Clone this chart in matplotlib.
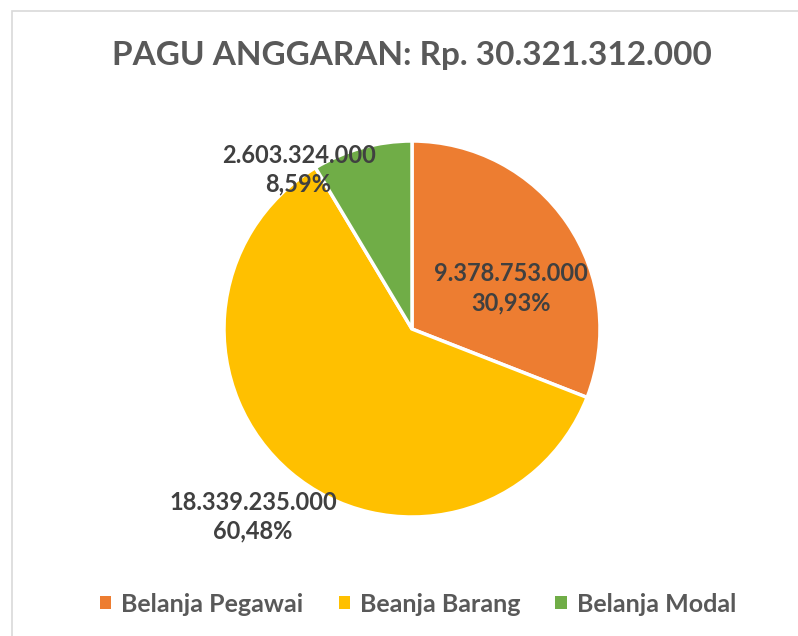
import matplotlib
matplotlib.use("Agg")
import matplotlib.pyplot as plt
from matplotlib.patches import Rectangle
import numpy as np

plt.rcParams["font.family"] = ["Lato", "DejaVu Sans"]

TITLE = "PAGU ANGGARAN: Rp. 30.321.312.000"
categories = ["Belanja Pegawai", "Beanja Barang", "Belanja Modal"]
values = [9378753000, 18339235000, 2603324000]
pct_labels = ["30,93%", "60,48%", "8,59%"]
colors = ["#ED7D31", "#FFC000", "#70AD47"]

W, H = 798, 636
fig = plt.figure(figsize=(W / 100, H / 100), dpi=100)

# chart frame (light gray, runs off the right/bottom edge)
fig.patches.append(Rectangle((12 / W, -0.1), 1.2, 1 - 11 / H + 0.1,
                             transform=fig.transFigure, fill=False,
                             edgecolor="#D9D9D9", linewidth=1.2))

fig.text(412 / W, 1 - 55 / H, TITLE, ha="center", va="center",
         fontsize=24, fontweight="bold", color="#595959")

cx, cy, r = 412, 329, 188
ax = fig.add_axes([(cx - r) / W, (H - cy - r) / H, 2 * r / W, 2 * r / H])
wedges, _ = ax.pie(values, colors=colors, startangle=90, counterclock=False,
                   radius=1, wedgeprops=dict(edgecolor="white", linewidth=2.5))
ax.set_xlim(-1, 1)
ax.set_ylim(-1, 1)
ax.set_aspect("equal")
ax.axis("off")

# label placement: (angle shift in degrees, distance from centre)
label_place = [(-12, 0.57), (0, 1.31), (20, 1.04)]
for w, v, p, (shift, dist) in zip(wedges, values, pct_labels, label_place):
    ang = np.deg2rad((w.theta1 + w.theta2) / 2 + shift)
    txt = f"{v:,}".replace(",", ".") + "\n" + p
    ax.text(dist * np.cos(ang), dist * np.sin(ang), txt, ha="center", va="center",
            fontsize=17, fontweight="bold", color="#404040", linespacing=1.3,
            clip_on=False)

leg = fig.legend(wedges, categories, loc="center", bbox_to_anchor=(418 / W, 1 - 604 / H),
                 ncol=3, frameon=False, handlelength=0.45, handleheight=0.45,
                 handletextpad=0.4, columnspacing=1.4,
                 prop=dict(size=18, weight="bold"))
for t in leg.get_texts():
    t.set_color("#595959")
for h in leg.legend_handles:
    h.set_edgecolor("none")

fig.savefig("out.png", dpi=100)
